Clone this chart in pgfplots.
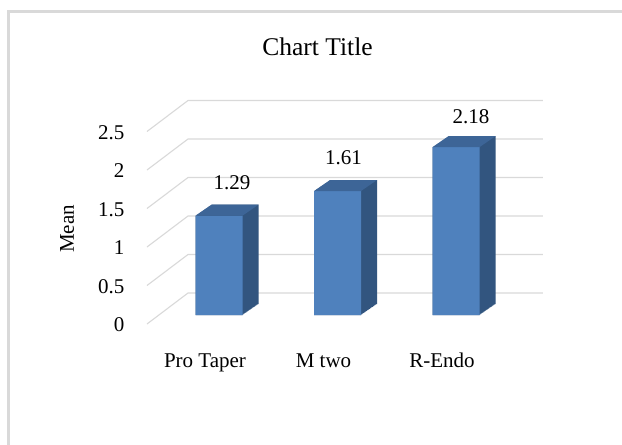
\documentclass[border=0pt]{standalone}
\usepackage{fontspec}
\setmainfont{Liberation Serif}
\usepackage{pgfplots}
\usepackage{pgfplotstable}
\pgfplotsset{compat=1.18}

\definecolor{barfront}{HTML}{4F81BD}
\definecolor{bartop}{HTML}{3D6597}
\definecolor{barside}{HTML}{32557F}
\definecolor{gridc}{HTML}{D9D9D9}

% mean per file system; lx/ly = label offset from bar top (pt)
\pgfplotstableread{
x mean lx ly
0 1.29 13 33
1 1.61 6  33
2 2.18 15 30
}\means

% top face of a bar, drawn at the bar's top-front centre
\pgfdeclareplotmark{bartopface}{%
  \pgfpathmoveto{\pgfqpoint{-23.5pt}{0pt}}%
  \pgfpathlineto{\pgfqpoint{23.5pt}{0pt}}%
  \pgfpathlineto{\pgfqpoint{39.5pt}{11pt}}%
  \pgfpathlineto{\pgfqpoint{-7.5pt}{11pt}}%
  \pgfpathclose
  \pgfusepathqfill}

\newcommand\lblfont{\fontsize{21}{25}\selectfont}

\begin{document}
\begin{tikzpicture}[x=1pt,y=1pt]
\useasboundingbox (0,0) rectangle (622,-445);
\fill[white] (0,0) rectangle (622,-445);
\draw[gridc, line width=2.6pt] (8.7,-11.3) rectangle (700,-520);
\node[font=\fontsize{25.5}{30}\selectfont, anchor=base] at (317.5,-55) {Chart Title};
\node[font=\lblfont, rotate=90] at (67,-229) {Mean};

\begin{axis}[
  at={(147pt,-324pt)}, anchor=south west,
  x=118.5pt, y=77pt,
  xmin=-0.6076, xmax=2.734,
  ymin=-0.1169, ymax=2.779,
  clip=false,
  axis line style={draw=none},
  major tick length=0pt,
  xtick={0,1,2},
  xticklabels={Pro Taper,M two,R-Endo},
  ytick={0,0.5,1,1.5,2,2.5},
  /pgf/number format/assume math mode=true,
  tick label style={font=\lblfont, text=black},
  xticklabel style={anchor=base, inner sep=0pt, xshift=-14pt, yshift=-43pt},
  yticklabel style={anchor=east, inner sep=0pt, xshift=-22.5pt, yshift=-10pt},
]

% floor-to-back-wall gridlines
\pgfplotsinvokeforeach{0,0.5,1,1.5,2,2.5}{
  \draw[gridc, line width=1.1pt] ([yshift=-9pt]axis cs:-0.6076,#1) -- ++(41pt,31pt)
    -- ([yshift=22pt]axis cs:2.734,#1);
}

% bar body (side), swept backwards
\pgfplotsinvokeforeach{0,...,16}{
  \addplot[ybar, bar width=47pt, bar shift=0pt, fill=barside, draw=none,
    xshift=#1pt, yshift=#1*0.6875pt] table[x=x, y=mean] {\means};
}

% top faces
\addplot[only marks, mark=bartopface, mark options={fill=bartop, draw=none}]
  table[x=x, y=mean] {\means};

% front faces with value labels
\addplot[ybar, bar width=47pt, bar shift=0pt, fill=barfront, draw=none,
  visualization depends on={\thisrow{lx} \as \labx},
  visualization depends on={\thisrow{ly} \as \laby},
  nodes near coords,
  every node near coord/.append style={font=\lblfont, text=black,
    anchor=center, xshift=\labx pt, yshift=\laby pt}]
  table[x=x, y=mean] {\means};
\end{axis}
\end{tikzpicture}
\end{document}
